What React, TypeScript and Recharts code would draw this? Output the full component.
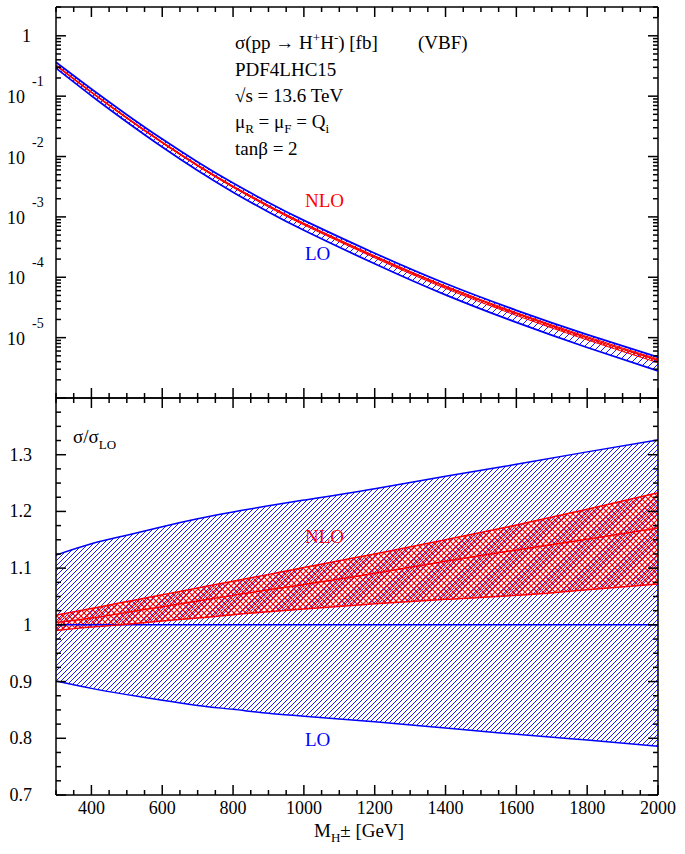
import React from 'react';
import { ComposedChart, Area, Line, XAxis, YAxis } from 'recharts';

// charged Higgs mass [GeV]
const masses = [300, 400, 500, 600, 700, 800, 900, 1000, 1200, 1400, 1600, 1800, 2000];

// upper panel: sigma [fb]
const sigmaLoUp = [0.3634, 0.1312, 0.04936, 0.01946, 0.008138, 0.003633, 0.001733, 8.75e-4, 2.502e-4, 7.875e-5, 2.839e-5, 1.124e-5, 4.76e-6];
const sigmaLoDown = [0.2916, 0.1019, 0.03741, 0.01439, 0.005868, 0.00257, 0.001206, 6.007e-4, 1.673e-4, 5.104e-5, 1.786e-5, 6.862e-6, 2.822e-6];
const sigmaNloUp = [0.3291, 0.1181, 0.04441, 0.01748, 0.007284, 0.003253, 0.001556, 7.883e-4, 2.27e-4, 7.176e-5, 2.602e-5, 1.037e-5, 4.426e-6];
const sigmaNlo = [0.3249, 0.1162, 0.0436, 0.01713, 0.007126, 0.003177, 0.001518, 7.668e-4, 2.202e-4, 6.939e-5, 2.505e-5, 9.91e-6, 4.204e-6];
const sigmaNloDown = [0.3204, 0.1143, 0.0427, 0.01672, 0.006921, 0.003074, 0.001462, 7.36e-4, 2.093e-4, 6.521e-5, 2.328e-5, 9.144e-6, 3.848e-6];

// lower panel: sigma / sigma_LO
const ratioLoUp = [1.123, 1.143, 1.158, 1.173, 1.187, 1.199, 1.21, 1.22, 1.24, 1.262, 1.283, 1.305, 1.326];
const ratioLo = [1, 1, 1, 1, 1, 1, 1, 1, 1, 1, 1, 1, 1];
const ratioLoDown = [0.901, 0.888, 0.877, 0.867, 0.858, 0.851, 0.844, 0.839, 0.829, 0.818, 0.807, 0.797, 0.786];
const ratioNloUp = [1.017, 1.029, 1.041, 1.053, 1.065, 1.077, 1.089, 1.101, 1.125, 1.15, 1.176, 1.204, 1.233];
const ratioNlo = [1.004, 1.012, 1.022, 1.032, 1.042, 1.052, 1.062, 1.071, 1.091, 1.112, 1.132, 1.151, 1.171];
const ratioNloDown = [0.99, 0.996, 1.001, 1.007, 1.012, 1.018, 1.023, 1.028, 1.037, 1.045, 1.052, 1.062, 1.072];

// ticks
const xTicks: number[] = [];
for (let m = 300; m <= 2000; m += 50) xTicks.push(m);
const logTicks: number[] = [];
for (let d = -6; d <= 0; d++) {
  for (let k = 1; k <= 9; k++) {
    const v = k * Math.pow(10, d);
    if (v <= 3) logTicks.push(v);
  }
}
const logLabels: Record<number, string> = { 0: '1', [-1]: '-1', [-2]: '-2', [-3]: '-3', [-4]: '-4', [-5]: '-5' };
const ratioTicks: number[] = [];
for (let i = 0; i < 28; i++) ratioTicks.push(Math.round((0.7 + i * 0.025) * 1000) / 1000);
const ratioLabels = ['0.7', '0.8', '0.9', '1', '1.1', '1.2', '1.3'];

const topRows = masses.map((m, i) => ({
  m,
  loBand: [sigmaLoDown[i], sigmaLoUp[i]],
  nloBand: [sigmaNloDown[i], sigmaNloUp[i]],
  loUp: sigmaLoUp[i],
  loDown: sigmaLoDown[i],
  nloUp: sigmaNloUp[i],
  nlo: sigmaNlo[i],
  nloDown: sigmaNloDown[i],
}));

const bottomRows = masses.map((m, i) => ({
  m,
  loBand: [ratioLoDown[i], ratioLoUp[i]],
  nloBand: [ratioNloDown[i], ratioNloUp[i]],
  loUp: ratioLoUp[i],
  lo: ratioLo[i],
  loDown: ratioLoDown[i],
  nloUp: ratioNloUp[i],
  nlo: ratioNlo[i],
  nloDown: ratioNloDown[i],
}));

const FONT = 'Liberation Serif, Times New Roman, Times, serif';
const BLUE = '#0000ff';
const RED = '#ff0000';
const txt = { fontFamily: FONT, fontSize: 18, fill: '#000' };

const XTick = ({ x, y, payload, side, labels }: any) => {
  const v = payload.value;
  const major = v % 200 === 0;
  const len = major ? 10 : 5;
  const dir = side === 'bottom' ? -1 : 1;
  return (
    <g>
      <line x1={x} y1={y} x2={x} y2={y + dir * len} stroke="#000" strokeWidth={1.5} />
      {labels && major && (
        <text x={x} y={y + 19} textAnchor="middle" style={txt}>
          {v}
        </text>
      )}
    </g>
  );
};

const LogTick = ({ x, y, payload, side }: any) => {
  const lg = Math.log10(payload.value);
  const major = Math.abs(lg - Math.round(lg)) < 1e-6;
  const len = major ? 10 : 5;
  const dir = side === 'left' ? 1 : -1;
  const e = Math.round(lg);
  const lab = side === 'left' && major ? logLabels[e] : undefined;
  return (
    <g>
      <line x1={x} y1={y} x2={x + dir * len} y2={y} stroke="#000" strokeWidth={1.5} />
      {lab && e === 0 && (
        <text x={x - 25} y={y + 6} textAnchor="end" style={txt}>1</text>
      )}
      {lab && e !== 0 && (
        <g>
          <text x={x - 31} y={y + 7} textAnchor="end" style={txt}>10</text>
          <text x={x - 24} y={y - 10} textAnchor="start" style={{ ...txt, fontSize: 14 }}>{lab}</text>
        </g>
      )}
    </g>
  );
};

const RatioTick = ({ x, y, payload, side }: any) => {
  const v = payload.value;
  const major = Math.abs(v * 10 - Math.round(v * 10)) < 1e-6;
  const len = major ? 10 : 5;
  const dir = side === 'left' ? 1 : -1;
  const idx = Math.round(v * 10) - 7;
  const lab = side === 'left' && major ? ratioLabels[idx] : undefined;
  return (
    <g>
      <line x1={x} y1={y} x2={x + dir * len} y2={y} stroke="#000" strokeWidth={1.5} />
      {lab && (
        <text x={x - 24} y={y + 6} textAnchor="end" style={txt}>{lab}</text>
      )}
    </g>
  );
};

const hatch = (id: string, s: number, color: string, cross: boolean, w = 0.9) => (
  <pattern id={id} patternUnits="userSpaceOnUse" width={s} height={s}>
    <path
      d={`M0,${s} L${s},0 M-1,1 L1,-1 M${s - 1},${s + 1} L${s + 1},${s - 1}`}
      stroke={color}
      strokeWidth={w}
      fill="none"
    />
    {cross && (
      <path
        d={`M0,0 L${s},${s} M-1,${s - 1} L1,${s + 1} M${s - 1},-1 L${s + 1},1`}
        stroke={color}
        strokeWidth={w}
        fill="none"
      />
    )}
  </pattern>
);

const axisLine = { stroke: '#000', strokeWidth: 1.5 };

const App = () => {
  return (
    <div style={{ position: 'absolute', left: 0, top: 0, width: 685, height: 854, background: '#fff' }}>
      <div style={{ position: 'absolute', left: 0, top: 0 }}>
        <ComposedChart width={685} height={399} data={topRows} margin={{ top: 6, right: 26, bottom: 0, left: 8 }}>
          <defs>
            {hatch('topLo', 7, BLUE, false)}
            {hatch('topNlo', 4, RED, true)}
          </defs>
          <XAxis dataKey="m" type="number" domain={[300, 2000]} ticks={xTicks} interval={0} height={1}
            axisLine={axisLine} tickLine={false} tickSize={0} tickMargin={0}
            tick={(p: any) => <XTick {...p} side="bottom" labels={false} />} />
          <XAxis xAxisId="t" orientation="top" dataKey="m" type="number" domain={[300, 2000]} ticks={xTicks} interval={0} height={1}
            axisLine={axisLine} tickLine={false} tickSize={0} tickMargin={0}
            tick={(p: any) => <XTick {...p} side="top" labels={false} />} />
          <YAxis scale="log" domain={[1e-6, 3]} allowDataOverflow ticks={logTicks} interval={0} width={48}
            axisLine={axisLine} tickLine={false} tickSize={0} tickMargin={0}
            tick={(p: any) => <LogTick {...p} side="left" />} />
          <YAxis yAxisId="r" orientation="right" scale="log" domain={[1e-6, 3]} allowDataOverflow ticks={logTicks} interval={0} width={1}
            axisLine={axisLine} tickLine={false} tickSize={0} tickMargin={0}
            tick={(p: any) => <LogTick {...p} side="right" />} />
          <Area type="natural" dataKey="loBand" fill="url(#topLo)" fillOpacity={1} stroke="none" isAnimationActive={false} />
          <Area type="natural" dataKey="nloBand" fill="url(#topNlo)" fillOpacity={1} stroke="none" isAnimationActive={false} />
          <Line type="natural" dataKey="loUp" stroke={BLUE} strokeWidth={1.8} dot={false} isAnimationActive={false} />
          <Line type="natural" dataKey="loDown" stroke={BLUE} strokeWidth={1.8} dot={false} isAnimationActive={false} />
          <Line type="natural" dataKey="nloUp" stroke={RED} strokeWidth={1} dot={false} isAnimationActive={false} />
          <Line type="natural" dataKey="nloDown" stroke={RED} strokeWidth={1} dot={false} isAnimationActive={false} />
          <Line type="natural" dataKey="nlo" stroke={RED} strokeWidth={1.5} dot={false} isAnimationActive={false} />
        </ComposedChart>
      </div>
      <div style={{ position: 'absolute', left: 0, top: 397 }}>
        <ComposedChart width={685} height={457} data={bottomRows} margin={{ top: 0, right: 26, bottom: 29, left: 8 }}>
          <defs>
            {hatch('botLo', 5, BLUE, false)}
            {hatch('botNlo', 6, RED, true, 1.1)}
          </defs>
          <XAxis dataKey="m" type="number" domain={[300, 2000]} ticks={xTicks} interval={0} height={30}
            axisLine={axisLine} tickLine={false} tickSize={0} tickMargin={0}
            tick={(p: any) => <XTick {...p} side="bottom" labels />} />
          <XAxis xAxisId="t" orientation="top" dataKey="m" type="number" domain={[300, 2000]} ticks={xTicks} interval={0} height={1}
            axisLine={axisLine} tickLine={false} tickSize={0} tickMargin={0}
            tick={(p: any) => <XTick {...p} side="top" labels={false} />} />
          <YAxis type="number" domain={[0.7, 1.4]} allowDataOverflow ticks={ratioTicks} interval={0} width={48}
            axisLine={axisLine} tickLine={false} tickSize={0} tickMargin={0}
            tick={(p: any) => <RatioTick {...p} side="left" />} />
          <YAxis yAxisId="r" orientation="right" type="number" domain={[0.7, 1.4]} allowDataOverflow ticks={ratioTicks} interval={0} width={1}
            axisLine={axisLine} tickLine={false} tickSize={0} tickMargin={0}
            tick={(p: any) => <RatioTick {...p} side="right" />} />
          <Area type="natural" dataKey="loBand" fill="url(#botLo)" fillOpacity={1} stroke="none" isAnimationActive={false} />
          <Area type="natural" dataKey="nloBand" fill="url(#botNlo)" fillOpacity={1} stroke="none" isAnimationActive={false} />
          <Line type="natural" dataKey="loUp" stroke={BLUE} strokeWidth={1.5} dot={false} isAnimationActive={false} />
          <Line type="natural" dataKey="loDown" stroke={BLUE} strokeWidth={1.5} dot={false} isAnimationActive={false} />
          <Line type="natural" dataKey="lo" stroke={BLUE} strokeWidth={1.5} dot={false} isAnimationActive={false} />
          <Line type="natural" dataKey="nloUp" stroke={RED} strokeWidth={1.5} dot={false} isAnimationActive={false} />
          <Line type="natural" dataKey="nlo" stroke={RED} strokeWidth={1.5} dot={false} isAnimationActive={false} />
          <Line type="natural" dataKey="nloDown" stroke={RED} strokeWidth={1.5} dot={false} isAnimationActive={false} />
        </ComposedChart>
      </div>
      <svg width={685} height={854} style={{ position: 'absolute', left: 0, top: 0, pointerEvents: 'none', fontFamily: FONT, fontSize: 19 }}>
        <text x={235} y={49}>
          σ(pp → H<tspan dy={-7} fontSize={13}>+</tspan><tspan dy={7}>H</tspan>
          <tspan dy={-7} fontSize={13}>-</tspan><tspan dy={7}>) [fb]</tspan>
        </text>
        <text x={418} y={49}>(VBF)</text>
        <text x={235} y={76}>PDF4LHC15</text>
        <text x={235} y={102}>√s = 13.6 TeV</text>
        <text x={235} y={128}>
          μ<tspan dy={5} fontSize={13}>R</tspan><tspan dy={-5}> = μ</tspan>
          <tspan dy={5} fontSize={13}>F</tspan><tspan dy={-5}> = Q</tspan>
          <tspan dy={5} fontSize={13}>i</tspan>
        </text>
        <text x={235} y={155}>tanβ = 2</text>
        <text x={305} y={207} fill={RED}>NLO</text>
        <text x={305} y={260} fill={BLUE}>LO</text>
        <text x={305} y={543} fill={RED}>NLO</text>
        <text x={305} y={746} fill={BLUE}>LO</text>
        <text x={73} y={443}>
          σ/σ<tspan dy={6} fontSize={13}>LO</tspan>
        </text>
        <text x={314} y={837}>
          M<tspan dy={5} fontSize={13}>H</tspan><tspan dy={-5}>± [GeV]</tspan>
        </text>
      </svg>
    </div>
  );
};

export default App;
